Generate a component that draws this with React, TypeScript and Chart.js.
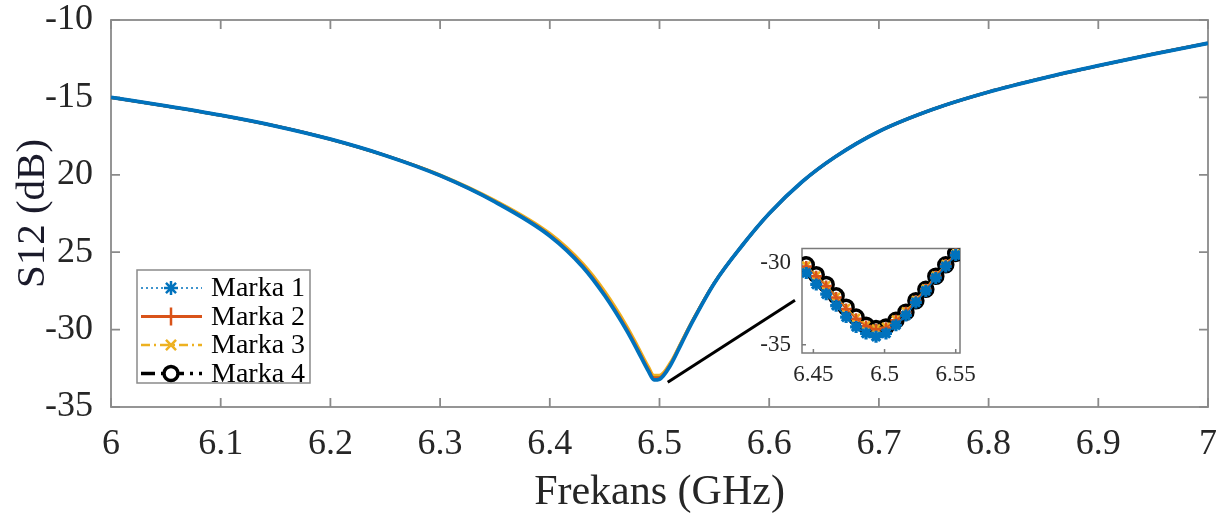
import React, { useEffect, useRef } from "react";
import { Chart, registerables } from "chart.js";

Chart.register(...registerables);

// ---------- data ----------
const SERIES_LABELS = ["Marka 1", "Marka 2", "Marka 3", "Marka 4"];
const SERIES_COLORS = ["#0072BD", "#D95319", "#EDB120", "#000000"];

const FREQ = [
  6.0, 6.05, 6.1, 6.15, 6.2, 6.25, 6.3, 6.35, 6.4, 6.43, 6.45, 6.47, 6.48, 6.49,
  6.495, 6.5, 6.51, 6.52, 6.53, 6.55, 6.575, 6.6, 6.63, 6.66, 6.7, 6.75, 6.8,
  6.85, 6.9, 6.95, 7.0,
];
const MARKA1 = [
  -15.0, -15.55, -16.15, -16.85, -17.7, -18.75, -20.05, -21.75, -23.95, -25.95, -27.8,
  -30.05, -31.35, -32.7, -33.25, -33.2, -32.3, -30.9, -29.5, -27.0, -24.6, -22.5,
  -20.45, -18.85, -17.2, -15.75, -14.65, -13.75, -12.95, -12.2, -11.5,
];
const MARKA2 = [
  -15.0, -15.55, -16.15, -16.85, -17.7, -18.75, -20.05, -21.73, -23.9, -25.88, -27.72,
  -29.95, -31.25, -32.6, -33.15, -33.12, -32.25, -30.87, -29.48, -27.0, -24.6, -22.5,
  -20.45, -18.85, -17.2, -15.75, -14.65, -13.75, -12.95, -12.2, -11.5,
];
const MARKA3 = [
  -15.0, -15.55, -16.15, -16.85, -17.7, -18.75, -20.0, -21.65, -23.78, -25.72, -27.52,
  -29.75, -31.05, -32.4, -32.95, -32.95, -32.12, -30.78, -29.42, -26.97, -24.6, -22.5,
  -20.45, -18.85, -17.2, -15.75, -14.65, -13.75, -12.95, -12.2, -11.5,
];
const MARKA4 = [
  -15.0, -15.55, -16.15, -16.85, -17.7, -18.75, -20.03, -21.7, -23.85, -25.82, -27.65,
  -29.88, -31.18, -32.52, -33.07, -33.05, -32.2, -30.83, -29.45, -26.98, -24.6, -22.5,
  -20.45, -18.85, -17.2, -15.75, -14.65, -13.75, -12.95, -12.2, -11.5,
];

const X_TICKS = [6, 6.1, 6.2, 6.3, 6.4, 6.5, 6.6, 6.7, 6.8, 6.9, 7];
const X_TICK_LABELS = ["6", "6.1", "6.2", "6.3", "6.4", "6.5", "6.6", "6.7", "6.8", "6.9", "7"];
const Y_TICKS = [-10, -15, -20, -25, -30, -35];
const Y_TICK_LABELS = ["-10", "-15", "20", "25", "-30", "-35"];

// zoomed inset
const ZOOM_FREQ = [
  6.445, 6.452, 6.459, 6.466, 6.473, 6.48, 6.487, 6.494, 6.501, 6.508, 6.515,
  6.522, 6.529, 6.536, 6.543, 6.55,
];
const ZOOM_M1 = [
  -30.6, -31.3, -31.9, -32.6, -33.3, -33.9, -34.3, -34.5, -34.3, -33.8, -33.2,
  -32.4, -31.7, -30.9, -30.2, -29.5,
];
const ZOOM_M2 = [
  -30.2, -30.8, -31.4, -32.1, -32.8, -33.4, -33.85, -34.05, -33.95, -33.5, -33.0,
  -32.3, -31.6, -30.8, -30.1, -29.4,
];
const ZOOM_M3 = [
  -30.15, -30.75, -31.35, -32.05, -32.75, -33.35, -33.8, -34.0, -33.9, -33.45, -32.95,
  -32.25, -31.55, -30.75, -30.05, -29.4,
];
const ZOOM_M4 = [
  -30.1, -30.7, -31.3, -32.0, -32.7, -33.3, -33.8, -34.0, -33.9, -33.5, -33.0,
  -32.3, -31.6, -30.8, -30.1, -29.4,
];
const ZOOM_X_TICKS = [6.45, 6.5, 6.55];
const ZOOM_X_TICK_LABELS = ["6.45", "6.5", "6.55"];
const ZOOM_Y_TICKS = [-30, -35];
const ZOOM_Y_TICK_LABELS = ["-30", "-35"];

// connector line from the dip to the inset (data units)
const CONNECTOR_FROM = [6.5075, -33.4];
const CONNECTOR_TO = [6.6235, -28.1];

// ---------- styles ----------
const FONT = "'Liberation Serif', 'Times New Roman', serif";
const TEXT = "#262626";
const BOX = "#8a8a8a";

const toXY = (xs: number[], ys: number[]) => xs.map((x, i) => ({ x, y: ys[i] }));

const noPadY = (w: number) => (s: any) => {
  s.width = w;
  s.paddingTop = 0;
  s.paddingBottom = 0;
};
const noPadX = (h: number) => (s: any) => {
  s.height = h;
  s.paddingLeft = 0;
  s.paddingRight = 0;
};

const boxPlugin = {
  id: "box",
  beforeDatasetsDraw(chart: any, _a: any, opts: any) {
    const { ctx, chartArea: a, scales } = chart;
    ctx.save();
    ctx.strokeStyle = opts.color;
    ctx.lineWidth = opts.width;
    ctx.strokeRect(a.left, a.top, a.right - a.left, a.bottom - a.top);
    const L = opts.tickLen;
    ctx.beginPath();
    scales.x.ticks.forEach((t: any) => {
      const px = scales.x.getPixelForValue(t.value);
      ctx.moveTo(px, a.bottom);
      ctx.lineTo(px, a.bottom - L);
      if (opts.all) {
        ctx.moveTo(px, a.top);
        ctx.lineTo(px, a.top + L);
      }
    });
    scales.y.ticks.forEach((t: any) => {
      const py = scales.y.getPixelForValue(t.value);
      ctx.moveTo(a.left, py);
      ctx.lineTo(a.left + L, py);
      if (opts.all) {
        ctx.moveTo(a.right, py);
        ctx.lineTo(a.right - L, py);
      }
    });
    ctx.stroke();
    ctx.restore();
  },
};

const connectorPlugin = {
  id: "connector",
  afterDatasetsDraw(chart: any) {
    const { ctx, scales } = chart;
    ctx.save();
    ctx.strokeStyle = "#000";
    ctx.lineWidth = 3;
    ctx.beginPath();
    ctx.moveTo(scales.x.getPixelForValue(CONNECTOR_FROM[0]), scales.y.getPixelForValue(CONNECTOR_FROM[1]));
    ctx.lineTo(scales.x.getPixelForValue(CONNECTOR_TO[0]), scales.y.getPixelForValue(CONNECTOR_TO[1]));
    ctx.stroke();
    ctx.restore();
  },
};

function drawMarker(ctx: CanvasRenderingContext2D, kind: string, x: number, y: number, r: number) {
  ctx.beginPath();
  if (kind === "circle") {
    ctx.arc(x, y, r, 0, Math.PI * 2);
    ctx.fillStyle = "#fff";
    ctx.fill();
  } else {
    if (kind === "cross" || kind === "star") {
      ctx.moveTo(x - r, y);
      ctx.lineTo(x + r, y);
      ctx.moveTo(x, y - r);
      ctx.lineTo(x, y + r);
    }
    if (kind === "crossRot" || kind === "star") {
      const d = r * 0.72;
      ctx.moveTo(x - d, y - d);
      ctx.lineTo(x + d, y + d);
      ctx.moveTo(x - d, y + d);
      ctx.lineTo(x + d, y - d);
    }
  }
  ctx.stroke();
}

const LEGEND_STYLE = [
  { dash: [2, 3], lw: 1.5, marker: "star", r: 7, mlw: 2.5 },
  { dash: [], lw: 3, marker: "cross", r: 9, mlw: 2.5 },
  { dash: [9, 4, 2, 4], lw: 2.5, marker: "crossRot", r: 7, mlw: 2.5 },
  { dash: [14, 6, 3, 6], lw: 3.5, marker: "circle", r: 7, mlw: 3.5 },
];

const legendPlugin = {
  id: "boxLegend",
  afterDraw(chart: any) {
    const { ctx } = chart;
    const left = 137, top = 270, w = 173, h = 113;
    ctx.save();
    ctx.fillStyle = "#fff";
    ctx.fillRect(left, top, w, h);
    ctx.strokeStyle = BOX;
    ctx.lineWidth = 1.5;
    ctx.strokeRect(left, top, w, h);
    chart.data.datasets.forEach((ds: any, i: number) => {
      const st = LEGEND_STYLE[i];
      const cy = top + 18 + i * 28.5;
      ctx.strokeStyle = ds.borderColor;
      ctx.lineWidth = st.lw;
      ctx.setLineDash(st.dash);
      ctx.beginPath();
      ctx.moveTo(141, cy);
      ctx.lineTo(202, cy);
      ctx.stroke();
      ctx.setLineDash([]);
      ctx.lineWidth = st.mlw;
      drawMarker(ctx, st.marker, 171, cy, st.r);
      ctx.fillStyle = "#000";
      ctx.font = `28px ${FONT}`;
      ctx.textBaseline = "middle";
      ctx.textAlign = "left";
      ctx.fillText(ds.label, 211, cy + 1);
    });
    ctx.restore();
  },
};

export default function App() {
  const mainRef = useRef<HTMLCanvasElement | null>(null);
  const insetRef = useRef<HTMLCanvasElement | null>(null);

  useEffect(() => {
    document.body.style.margin = "0";
    const mainSeries = [MARKA1, MARKA2, MARKA3, MARKA4];
    const main = new Chart(mainRef.current!, {
      type: "line",
      data: {
        datasets: mainSeries.map((ys, i) => ({
          label: SERIES_LABELS[i],
          data: toXY(FREQ, ys),
          borderColor: SERIES_COLORS[i],
          backgroundColor: SERIES_COLORS[i],
          borderWidth: i === 0 ? 3.8 : 3,
          pointRadius: 0,
          cubicInterpolationMode: "monotone",
          fill: false,
        })),
      },
      options: {
        animation: false,
        responsive: false,
        layout: { padding: { top: 20, right: 20, left: 0, bottom: 0 } },
        plugins: {
          legend: { display: false },
          tooltip: { enabled: false },
          box: { color: BOX, width: 1.8, tickLen: 9, all: true },
        } as any,
        scales: {
          x: {
            type: "linear",
            min: 6,
            max: 7,
            afterBuildTicks: (s: any) => {
              s.ticks = X_TICKS.map((v) => ({ value: v }));
            },
            afterFit: noPadX(111),
            grid: { display: false },
            border: { display: false },
            ticks: {
              autoSkip: false,
              maxRotation: 0,
              padding: 8,
              color: TEXT,
              font: { family: FONT, size: 36 },
              callback: (_v: any, i: number) => X_TICK_LABELS[i],
            },
            title: {
              display: true,
              text: "Frekans (GHz)",
              color: TEXT,
              font: { family: FONT, size: 42 },
              padding: { top: 0, bottom: 0 },
            },
          },
          y: {
            type: "linear",
            min: -35,
            max: -10,
            afterBuildTicks: (s: any) => {
              s.ticks = Y_TICKS.map((v) => ({ value: v }));
            },
            afterFit: noPadY(111),
            grid: { display: false },
            border: { display: false },
            ticks: {
              autoSkip: false,
              padding: 10,
              color: TEXT,
              font: { family: FONT, size: 36 },
              callback: (_v: any, i: number) => Y_TICK_LABELS[i],
            },
            title: {
              display: true,
              text: "S12 (dB)",
              color: "#1a1a2a",
              font: { family: FONT, size: 41 },
              padding: { top: 9, bottom: 0 },
            },
          },
        },
      } as any,
      plugins: [boxPlugin, connectorPlugin, legendPlugin],
    });

    const zoomSeries = [ZOOM_M1, ZOOM_M2, ZOOM_M3, ZOOM_M4];
    const pointStyles = ["star", "cross", "crossRot", "circle"];
    const pointRadii = [6, 5.5, 5.5, 7];
    const pointBW = [3.2, 2.5, 2.5, 3.5];
    const inset = new Chart(insetRef.current!, {
      type: "line",
      data: {
        datasets: zoomSeries.map((ys, i) => ({
          label: SERIES_LABELS[i],
          data: toXY(ZOOM_FREQ, ys),
          borderColor: SERIES_COLORS[i],
          backgroundColor: i === 3 ? "rgba(0,0,0,0)" : SERIES_COLORS[i],
          borderWidth: 1.5,
          pointStyle: pointStyles[i],
          pointRadius: pointRadii[i],
          pointBorderWidth: pointBW[i],
          pointBorderColor: SERIES_COLORS[i],
          fill: false,
        })),
      },
      options: {
        animation: false,
        responsive: false,
        layout: { padding: { top: 9, right: 15, left: 0, bottom: 0 } },
        plugins: {
          legend: { display: false },
          tooltip: { enabled: false },
          box: { color: "#7a7a7a", width: 1.5, tickLen: 4, all: false },
        } as any,
        scales: {
          x: {
            type: "linear",
            min: 6.442,
            max: 6.553,
            afterBuildTicks: (s: any) => {
              s.ticks = ZOOM_X_TICKS.map((v) => ({ value: v }));
            },
            afterFit: noPadX(35),
            grid: { display: false },
            border: { display: false },
            ticks: {
              autoSkip: false,
              maxRotation: 0,
              padding: 0,
              color: TEXT,
              font: { family: FONT, size: 23 },
              callback: (_v: any, i: number) => ZOOM_X_TICK_LABELS[i],
            },
          },
          y: {
            type: "linear",
            min: -35.5,
            max: -29.1,
            afterBuildTicks: (s: any) => {
              s.ticks = ZOOM_Y_TICKS.map((v) => ({ value: v }));
            },
            afterFit: noPadY(42),
            grid: { display: false },
            border: { display: false },
            ticks: {
              autoSkip: false,
              padding: 3,
              color: TEXT,
              font: { family: FONT, size: 23 },
              callback: (_v: any, i: number) => ZOOM_Y_TICK_LABELS[i],
            },
          },
        },
      } as any,
      plugins: [boxPlugin],
    });

    return () => {
      main.destroy();
      inset.destroy();
    };
  }, []);

  return (
    <div style={{ position: "relative", width: 1228, height: 518, background: "#fff" }}>
      <canvas ref={mainRef} width={1228} height={518} style={{ position: "absolute", left: 0, top: 0 }} />
      <canvas
        ref={insetRef}
        width={215}
        height={150}
        style={{ position: "absolute", left: 760, top: 238, background: "transparent" }}
      />
    </div>
  );
}
